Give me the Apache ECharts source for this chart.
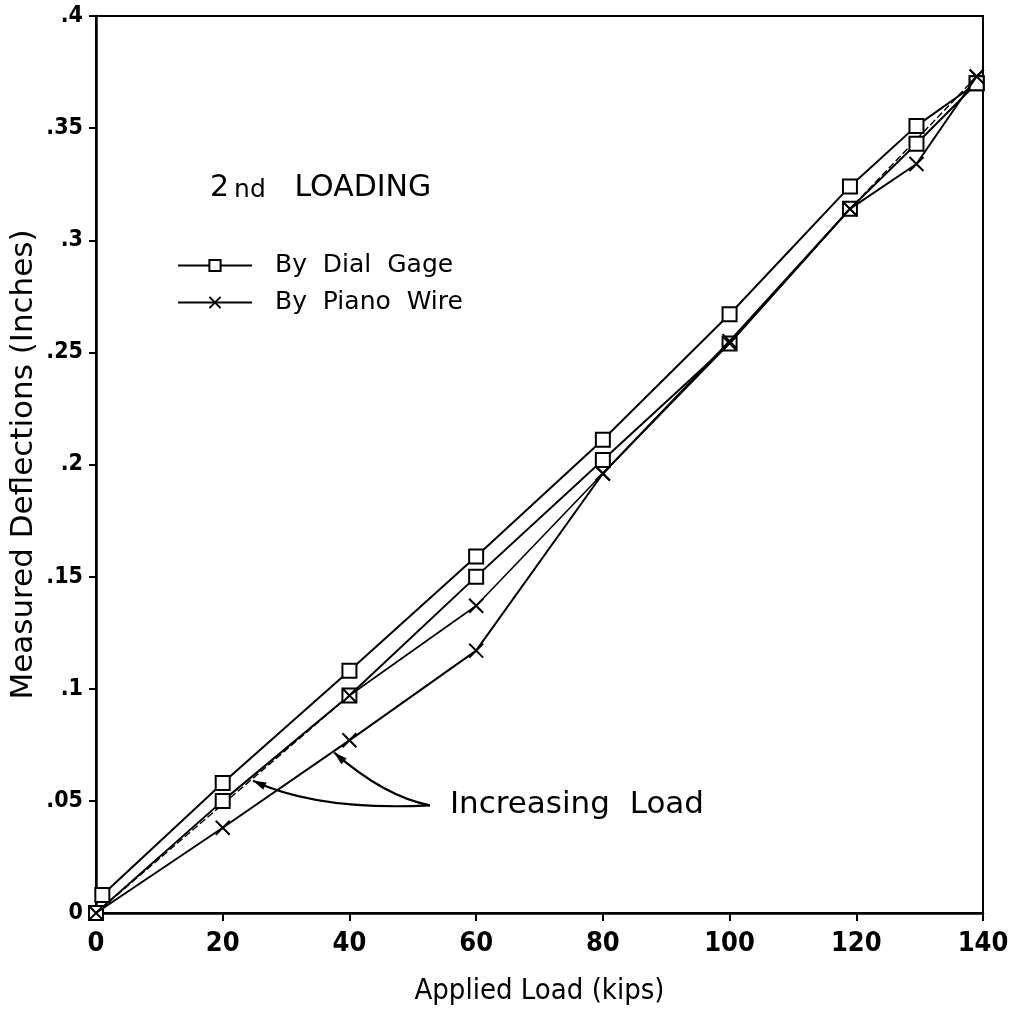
<!DOCTYPE html>
<html>
<head>
<meta charset="utf-8">
<script src="https://cdn.jsdelivr.net/npm/echarts@6/dist/echarts.min.js"></script>
<style>
html,body{margin:0;padding:0;background:#fff;}
#chart{width:1011px;height:1025px;}
</style>
</head>
<body>
<div id="chart"></div>
<script>
// ---- data (load in kips, deflection in inches) ----
const xTicks = [0, 20, 40, 60, 80, 100, 120, 140];
const yTicks = [0, 0.05, 0.1, 0.15, 0.2, 0.25, 0.3, 0.35, 0.4];

const dialIncLoad = [0, 20, 40, 60, 80, 100, 119, 129.5, 139];
const dialIncDefl = [0, 0.050, 0.097, 0.150, 0.202, 0.254, 0.314, 0.343, 0.370];

const dialDecLoad = [139, 129.5, 119, 100, 80, 60, 40, 20, 1];
const dialDecDefl = [0.370, 0.351, 0.324, 0.267, 0.211, 0.159, 0.108, 0.058, 0.008];

const wireIncLoad = [0, 20, 40, 60, 80, 100, 119, 129.5, 139];
const wireIncDefl = [0, 0.038, 0.077, 0.117, 0.196, 0.255, 0.314, 0.334, 0.373];

const wireDecLoad = [139, 119, 100, 80, 60, 40, 0];
const wireDecDefl = [0.373, 0.314, 0.254, 0.196, 0.137, 0.097, 0];

// annotation anchors (data coords)
const arrowStart = [52.7, 0.048];
const arrowTips = [[24.8, 0.059], [37.6, 0.0715]];
const arrowCtrls = [[35, 0.0455], [45.5, 0.052]];
const annoText = 'Increasing  Load';

const zip = (a, b) => a.map((v, i) => [v, b[i]]);
const xSym = 'path://M0,0L10,10M10,0L0,10';

const sqStyle = {color: '#fff', borderColor: '#000', borderWidth: 2};
const xStyle = {color: 'rgba(0,0,0,0)', borderColor: '#000', borderWidth: 2};

const wireDec = zip(wireDecLoad, wireDecDefl);
const narrow = 'Liberation Sans Narrow, DejaVu Sans Condensed, sans-serif';

const chart = echarts.init(document.getElementById('chart'), null, {renderer: 'canvas'});

const option = {
  backgroundColor: '#fff',
  animation: false,
  title: {
    text: '{a|2}{b|nd}{a|   LOADING}',
    left: 205, top: 168,
    textStyle: {
      fontWeight: 'normal',
      rich: {
        a: {fontFamily: 'DejaVu Sans', fontSize: 30, fontWeight: 'normal', color: '#000'},
        b: {fontFamily: 'DejaVu Sans', fontSize: 25, fontWeight: 'normal', color: '#000', padding: [4, 0, 0, 5]}
      }
    }
  },
  legend: {
    data: ['By Dial Gage', 'By Piano Wire'],
    orient: 'vertical',
    left: 172, top: 248,
    itemWidth: 74, itemHeight: 14, itemGap: 12,
    selectedMode: false,
    textStyle: {fontFamily: 'DejaVu Sans', fontSize: 25, color: '#000', padding: [0, 0, 0, 18]},
    formatter: n => n.replace(/ /g, '  ')
  },
  grid: {
    left: 96, right: 28, top: 16, bottom: 112,
    outerBoundsMode: 'none', containLabel: false,
    show: true, borderColor: '#000', borderWidth: 2
  },
  xAxis: {
    type: 'value', min: 0, max: 140, interval: 20,
    name: 'Applied Load (kips)', nameLocation: 'middle', nameGap: 64,
    nameMoveOverlap: false,
    nameTextStyle: {fontFamily: narrow, fontSize: 29, color: '#000'},
    axisLine: {lineStyle: {color: '#000', width: 2.5}},
    axisTick: {show: true, length: 8, lineStyle: {color: '#000', width: 2}},
    splitLine: {show: false},
    axisLabel: {
      margin: 17, color: '#000', fontSize: 27, fontWeight: 'bold',
      fontFamily: narrow,
      formatter: v => xTicks.includes(v) ? String(v) : ''
    }
  },
  yAxis: {
    type: 'value', min: 0, max: 0.4, interval: 0.05,
    name: 'Measured Deflections (Inches)', nameLocation: 'middle', nameGap: 57,
    nameMoveOverlap: false,
    nameTextStyle: {fontFamily: 'DejaVu Sans', fontSize: 31, color: '#000'},
    axisLine: {lineStyle: {color: '#000', width: 2.5}},
    axisTick: {show: true, length: 7, lineStyle: {color: '#000', width: 2}},
    splitLine: {show: false},
    axisLabel: {
      margin: 13, color: '#000', fontSize: 23, fontWeight: 'bold',
      fontFamily: narrow,
      formatter: v => {
        const t = yTicks.find(k => Math.abs(k - v) < 1e-9);
        if (t === undefined) return '';
        return t === 0 ? '0' : String(+t.toFixed(2)).replace(/^0\./, '.');
      }
    }
  },
  series: [
    {
      name: 'By Dial Gage', type: 'line', data: zip(dialIncLoad, dialIncDefl),
      symbol: 'rect', symbolSize: 14, color: '#000',
      lineStyle: {color: '#000', width: 2}, itemStyle: sqStyle, z: 3
    },
    {
      name: 'By Dial Gage', type: 'line', data: zip(dialDecLoad, dialDecDefl),
      symbol: 'rect', symbolSize: 14, color: '#000',
      lineStyle: {color: '#000', width: 2}, itemStyle: sqStyle, z: 3
    },
    {
      name: 'By Piano Wire', type: 'line', data: zip(wireIncLoad, wireIncDefl),
      symbol: xSym, symbolSize: 14, color: '#000',
      lineStyle: {color: '#000', width: 2}, itemStyle: xStyle, z: 4
    },
    {
      name: 'By Piano Wire', type: 'line', data: wireDec.slice(1, 6),
      symbol: xSym, symbolSize: 14, color: '#000',
      lineStyle: {color: '#000', width: 1.6}, itemStyle: xStyle, z: 4
    },
    {
      name: 'By Piano Wire', type: 'line', data: wireDec.slice(0, 2),
      symbol: xSym, symbolSize: 14, color: '#000',
      lineStyle: {color: '#000', width: 1.4, type: [7, 3]}, itemStyle: xStyle, z: 2
    },
    {
      name: 'By Piano Wire', type: 'line', data: wireDec.slice(5),
      symbol: xSym, symbolSize: 14, color: '#000',
      lineStyle: {color: '#000', width: 1.4, type: [7, 3]}, itemStyle: xStyle, z: 2
    }
  ]
};
chart.setOption(option);

// annotation arrows + label, positioned through the chart's own coordinate system
function buildAnnotations() {
  const p0 = chart.convertToPixel({gridIndex: 0}, arrowStart);
  const els = [];
  arrowTips.forEach((tip, i) => {
    const p2 = chart.convertToPixel({gridIndex: 0}, tip);
    const c = chart.convertToPixel({gridIndex: 0}, arrowCtrls[i]);
    els.push({
      type: 'bezierCurve',
      shape: {x1: p0[0], y1: p0[1], x2: p2[0], y2: p2[1], cpx1: c[0], cpy1: c[1]},
      style: {stroke: '#000', lineWidth: 2.2, fill: null}, z: 10
    });
    const dx = p2[0] - c[0], dy = p2[1] - c[1];
    const L = Math.hypot(dx, dy), ux = dx / L, uy = dy / L;
    const len = 13, w = 4;
    const bx = p2[0] - ux * len, by = p2[1] - uy * len;
    els.push({
      type: 'polygon',
      shape: {points: [[p2[0], p2[1]], [bx - uy * w, by + ux * w], [bx + uy * w, by - ux * w]]},
      style: {fill: '#000'}, z: 10
    });
  });
  els.push({
    type: 'text', x: p0[0] + 20, y: p0[1],
    style: {text: annoText, fontFamily: 'DejaVu Sans', fontSize: 31, fill: '#000', verticalAlign: 'middle', align: 'left'},
    z: 10
  });
  chart.setOption({graphic: els});
}
buildAnnotations();
</script>
</body>
</html>
